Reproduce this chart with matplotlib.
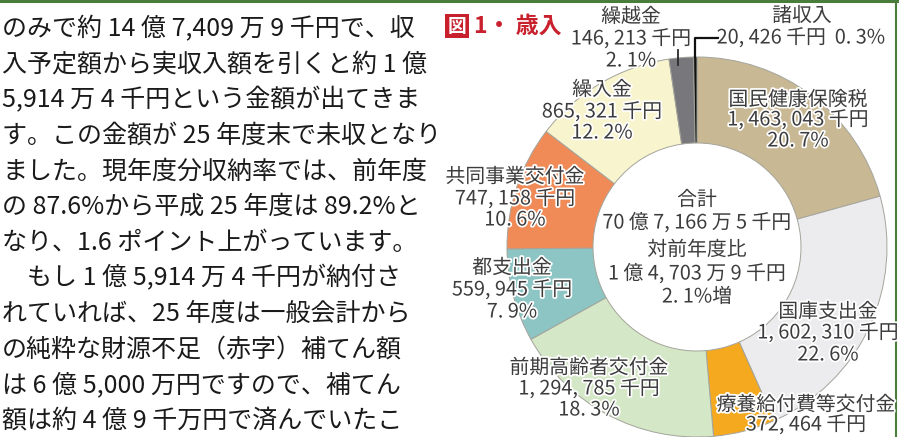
import matplotlib.pyplot as plt
import matplotlib.patheffects as pe

plt.rcParams['font.family'] = ['Noto Sans CJK JP', 'DejaVu Sans']

W, H = 899, 437

# 本文 (左側の文章)
body_lines = [
    "のみで約 14 億 7,409 万 9 千円で、収",
    "入予定額から実収入額を引くと約 1 億",
    "5,914 万 4 千円という金額が出てきま",
    "す。この金額が 25 年度末で未収となり",
    "ました。現年度分収納率では、前年度",
    "の 87.6%から平成 25 年度は 89.2%と",
    "なり、1.6 ポイント上がっています。",
    "　もし 1 億 5,914 万 4 千円が納付さ",
    "れていれば、25 年度は一般会計から",
    "の純粋な財源不足（赤字）補てん額",
    "は 6 億 5,000 万円ですので、補てん",
    "額は約 4 億 9 千万円で済んでいたこ",
]

# 歳入の内訳 (千円)
categories = ["国民健康保険税", "国庫支出金", "療養給付費等交付金", "前期高齢者交付金",
              "都支出金", "共同事業交付金", "繰入金", "繰越金", "諸収入"]
amounts = [1463043, 1602310, 372464, 1294785, 559945, 747158, 865321, 146213, 20426]
amount_labels = ["1, 463, 043 千円", "1, 602, 310 千円", "372, 464 千円", "1, 294, 785 千円",
                 "559, 945 千円", "747, 158 千円", "865, 321 千円", "146, 213 千円", "20, 426 千円"]
shares = ["20. 7%", "22. 6%", "5. 3%", "18. 3%", "7. 9%", "10. 6%", "12. 2%", "2. 1%", "0. 3%"]
colors = ["#c9b894", "#ececee", "#f5a91f", "#d4e7c6", "#8dc5c4", "#f08b58", "#f8f4cd",
          "#78787c", "#111111"]

center_lines = ["合計", "70 億 7, 166 万 5 千円", "対前年度比", "1 億 4, 703 万 9 千円", "2. 1%増"]

fig = plt.figure(figsize=(W / 100, H / 100), dpi=100)
ax = fig.add_axes([0, 0, 1, 1])


def py(y):
    return H - y


# 円グラフ (ドーナツ)
cx, cy, r_out, r_in = 697, 247, 190, 104
ax.pie(amounts, colors=colors, startangle=90, counterclock=False,
       center=(cx, py(cy)), radius=r_out,
       wedgeprops=dict(width=r_out - r_in, edgecolor="#a4a49c", linewidth=0.7))
ax.set_xlim(0, W)
ax.set_ylim(0, H)
ax.set_aspect("equal")
ax.axis("off")

# 本文
for i, line in enumerate(body_lines):
    ax.text(2, py(29 + i * 35.6), line, fontsize=18, color="#1a1a1a",
            ha="left", va="center")

# タイトル
ax.text(457, py(26), "図", fontsize=13.5, color="white", fontweight="bold",
        ha="center", va="center",
        bbox=dict(boxstyle="square,pad=0.14", facecolor="#c8202c", edgecolor="none"))
ax.text(474, py(26), "1・ 歳入", fontsize=16.5, color="#c8202c", fontweight="bold",
        ha="left", va="center")

halo = [pe.withStroke(linewidth=2.5, foreground="white")]
lab = dict(fontsize=14.3, color="#3c3c3c", ha="center", va="center", path_effects=halo)

# ラベル位置 (x, 各行の y)  ※療養給付費等交付金の割合は紙面外
label_pos = {
    "国民健康保険税": (798, [100, 120, 141]),
    "国庫支出金": (828, [312, 333, 355]),
    "療養給付費等交付金": (806, [405, 425]),
    "前期高齢者交付金": (589, [368, 389, 410]),
    "都支出金": (512, [268, 290, 312]),
    "共同事業交付金": (515, [177, 199, 220]),
    "繰入金": (602, [90, 112, 133]),
    "繰越金": (631, [17, 39, 61]),
}
for name, amt, sh in zip(categories, amount_labels, shares):
    if name not in label_pos:
        continue
    x, ys = label_pos[name]
    for txt, y in zip([name, amt, sh], ys):
        ax.text(x, py(y), txt, **lab)

# 諸収入 (引き出し線付き)
ax.text(802, py(16), categories[-1], **lab)
ax.text(801, py(38), amount_labels[-1] + "  " + shares[-1], **lab)
ax.plot([695, 695, 718], [py(57), py(38), py(38)], color="#111111", lw=1.6)
ax.plot([678, 678], [py(50), py(65)], color="#2a2a2a", lw=1.3)

# 合計
for txt, y in zip(center_lines, [200, 223, 250, 274, 297]):
    ax.text(697, py(y), txt, **lab)

# 枠線
ax.plot([0, W], [H - 1, H - 1], color="#4a7d3c", lw=2.2)
ax.plot([W - 3, W - 3], [0, H], color="#4a7d3c", lw=1.5)

fig.savefig("out.png", dpi=100)
